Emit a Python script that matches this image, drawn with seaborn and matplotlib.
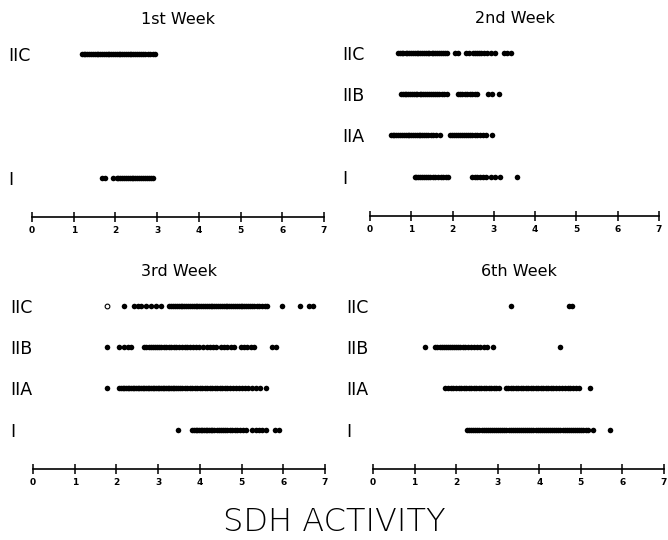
import numpy as np
import pandas as pd
import matplotlib
matplotlib.use("Agg")
import matplotlib.pyplot as plt
import seaborn as sns

sns.set_theme(style="white")
plt.rcParams['font.family'] = ['DejaVu Sans']
plt.rcParams['text.color'] = 'black'
plt.rcParams['xtick.color'] = 'black'
plt.rcParams['ytick.color'] = 'black'
plt.rcParams['axes.labelcolor'] = 'black'

order = ["IIC", "IIB", "IIA", "I"]
titles = ["1st Week", "2nd Week", "3rd Week", "6th Week"]
xticks = [0, 1, 2, 3, 4, 5, 6, 7]

# ---- 1st week ----
w1_IIC = [1.20, 1.24, 1.28, 1.33, 1.37, 1.41, 1.46, 1.50, 1.55, 1.59, 1.63, 1.68,
          1.72, 1.77, 1.81, 1.85, 1.90, 1.94, 1.99, 2.03, 2.08, 2.12, 2.16, 2.21,
          2.25, 2.30, 2.34, 2.38, 2.43, 2.47, 2.52, 2.56, 2.61, 2.66, 2.72, 2.78,
          2.84, 2.90, 2.95]
w1_I = [1.67, 1.74, 1.95, 2.03, 2.07, 2.12, 2.16, 2.21, 2.25, 2.30, 2.34, 2.39,
        2.43, 2.48, 2.52, 2.57, 2.61, 2.66, 2.70, 2.75, 2.80, 2.85, 2.90]

# ---- 2nd week ----
w2_IIC = [0.68, 0.72, 0.77, 0.81, 0.86, 0.90, 0.95, 0.99, 1.04, 1.08, 1.13, 1.17,
          1.22, 1.26, 1.31, 1.35, 1.40, 1.44, 1.49, 1.53, 1.58, 1.62, 1.67, 1.71,
          1.76, 1.82, 1.87, 2.05, 2.14, 2.32, 2.40, 2.50, 2.55, 2.60, 2.65, 2.70,
          2.76, 2.84, 2.92, 3.02, 3.25, 3.33, 3.42]
w2_IIB = [0.74, 0.79, 0.84, 0.88, 0.93, 0.97, 1.02, 1.06, 1.11, 1.15, 1.20, 1.24,
          1.29, 1.33, 1.38, 1.42, 1.47, 1.52, 1.57, 1.63, 1.68, 1.74, 1.80, 1.87,
          2.13, 2.18, 2.24, 2.30, 2.36, 2.42, 2.48, 2.54, 2.60, 2.86, 2.95, 3.12]
w2_IIA = [0.50, 0.55, 0.59, 0.64, 0.68, 0.73, 0.77, 0.82, 0.86, 0.91, 0.95, 1.00,
          1.04, 1.09, 1.13, 1.18, 1.22, 1.27, 1.31, 1.36, 1.41, 1.47, 1.53, 1.60,
          1.70, 1.94, 1.99, 2.04, 2.08, 2.13, 2.17, 2.22, 2.27, 2.32, 2.37, 2.42,
          2.48, 2.54, 2.60, 2.67, 2.74, 2.82, 2.95]
w2_I = [1.08, 1.12, 1.17, 1.21, 1.26, 1.30, 1.35, 1.40, 1.46, 1.52, 1.58, 1.64,
        1.71, 1.78, 1.85, 1.90, 2.48, 2.54, 2.60, 2.67, 2.74, 2.82, 2.92, 3.02,
        3.14, 3.55]

# ---- 3rd week ----
w3_IIC = [2.17, 2.43, 2.51, 2.59, 2.71, 2.83, 2.95, 3.07, 3.27, 3.31, 3.36, 3.40,
          3.45, 3.49, 3.54, 3.58, 3.63, 3.67, 3.72, 3.76, 3.81, 3.85, 3.90, 3.94,
          3.99, 4.03, 4.08, 4.12, 4.17, 4.21, 4.26, 4.30, 4.35, 4.39, 4.44, 4.48,
          4.53, 4.57, 4.62, 4.66, 4.71, 4.75, 4.80, 4.84, 4.89, 4.93, 4.98, 5.02,
          5.07, 5.11, 5.16, 5.20, 5.25, 5.30, 5.36, 5.42, 5.48, 5.55, 5.62, 5.98,
          6.41, 6.61, 6.71]
w3_IIC_open = [1.77]
w3_IIB = [1.77, 2.07, 2.19, 2.27, 2.35, 2.67, 2.72, 2.77, 2.82, 2.87, 2.92, 2.97,
          3.02, 3.08, 3.14, 3.20, 3.25, 3.31, 3.38, 3.44, 3.50, 3.57, 3.64, 3.70,
          3.77, 3.84, 3.91, 3.98, 4.08, 4.16, 4.24, 4.31, 4.38, 4.50, 4.58, 4.66,
          4.74, 4.82, 4.98, 5.06, 5.14, 5.22, 5.30, 5.72, 5.83]
w3_IIA = [1.77, 2.07, 2.11, 2.15, 2.19, 2.23, 2.27, 2.31, 2.35, 2.39, 2.43, 2.47,
          2.51, 2.55, 2.59, 2.63, 2.67, 2.71, 2.75, 2.79, 2.83, 2.87, 2.91, 2.95,
          2.99, 3.03, 3.07, 3.11, 3.15, 3.19, 3.23, 3.27, 3.31, 3.35, 3.39, 3.43,
          3.47, 3.52, 3.58, 3.64, 3.70, 3.76, 3.82, 3.88, 3.94, 4.00, 4.06, 4.12,
          4.18, 4.24, 4.30, 4.36, 4.42, 4.48, 4.54, 4.60, 4.66, 4.72, 4.79, 4.86,
          4.93, 5.00, 5.08, 5.16, 5.24, 5.34, 5.44, 5.58]
w3_I = [3.47, 3.82, 3.86, 3.90, 3.94, 3.98, 4.02, 4.06, 4.10, 4.14, 4.18, 4.22,
        4.26, 4.30, 4.35, 4.40, 4.45, 4.50, 4.55, 4.60, 4.66, 4.72, 4.78, 4.84,
        4.90, 4.96, 5.03, 5.10, 5.26, 5.34, 5.42, 5.50, 5.58, 5.80, 5.90]

# ---- 6th week ----
w6_IIC = [3.31, 4.72, 4.78]
w6_IIB = [1.24, 1.50, 1.55, 1.60, 1.65, 1.70, 1.75, 1.80, 1.85, 1.90, 1.95, 2.00,
          2.05, 2.10, 2.16, 2.22, 2.28, 2.35, 2.42, 2.50, 2.58, 2.66, 2.74, 2.89,
          4.51]
w6_IIA = [1.72, 1.80, 1.87, 1.93, 2.00, 2.06, 2.12, 2.18, 2.24, 2.30, 2.36, 2.42,
          2.48, 2.54, 2.60, 2.66, 2.72, 2.78, 2.84, 2.90, 2.96, 3.02, 3.19, 3.25,
          3.31, 3.37, 3.43, 3.49, 3.55, 3.61, 3.67, 3.73, 3.79, 3.85, 3.91, 3.97,
          4.03, 4.09, 4.15, 4.21, 4.27, 4.33, 4.40, 4.47, 4.54, 4.61, 4.68, 4.75,
          4.82, 4.89, 4.95, 5.23]
w6_I = [2.26, 2.31, 2.36, 2.41, 2.46, 2.51, 2.56, 2.61, 2.66, 2.71, 2.76, 2.81,
        2.86, 2.91, 2.96, 3.01, 3.06, 3.11, 3.16, 3.21, 3.26, 3.31, 3.36, 3.41,
        3.46, 3.51, 3.56, 3.61, 3.66, 3.71, 3.76, 3.81, 3.86, 3.91, 3.96, 4.01,
        4.06, 4.11, 4.16, 4.21, 4.26, 4.31, 4.36, 4.41, 4.46, 4.51, 4.56, 4.61,
        4.66, 4.71, 4.76, 4.81, 4.86, 4.91, 4.96, 5.01, 5.06, 5.12, 5.18, 5.30,
        5.70]

panels = [
    {"IIC": w1_IIC, "I": w1_I},
    {"IIC": w2_IIC, "IIB": w2_IIB, "IIA": w2_IIA, "I": w2_I},
    {"IIC": w3_IIC, "IIB": w3_IIB, "IIA": w3_IIA, "I": w3_I},
    {"IIC": w6_IIC, "IIB": w6_IIB, "IIA": w6_IIA, "I": w6_I},
]


def to_df(d):
    rows = []
    for k, vals in d.items():
        for v in vals:
            rows.append((k, v))
    return pd.DataFrame(rows, columns=["fiber", "value"])


W, H = 668, 540
fig = plt.figure(figsize=(W / 100, H / 100), dpi=100)

# (left px of 0, right px of 7, axis-line y px, label pad px)
geo = [(32, 324, 217, 24), (370, 659, 216, 28), (33, 325, 469, 23), (373, 664, 469, 27)]
unit_px = 41.3
ytop, ybot = -0.6, 3.95

for i, (d, title, (x0, x1, yax, pad)) in enumerate(zip(panels, titles, geo)):
    hpx = (ybot - ytop) * unit_px
    ax = fig.add_axes([x0 / W, 1 - yax / H, (x1 - x0) / W, hpx / H])
    df = to_df(d)
    sns.stripplot(data=df, x="value", y="fiber", order=order, jitter=False,
                  color="black", size=4.0, linewidth=0, ax=ax)
    if i == 2:
        dfo = pd.DataFrame({"fiber": ["IIC"] * len(w3_IIC_open), "value": w3_IIC_open})
        sns.stripplot(data=dfo, x="value", y="fiber", order=order, jitter=False,
                      color="white", edgecolor="black", linewidth=0.8, size=3.4, ax=ax)
    ax.set_xlim(0, 7)
    ax.set_ylim(ybot, ytop)
    present = [c for c in order if c in d]
    ax.set_yticks([order.index(c) for c in present])
    ax.set_yticklabels(present, ha="left", fontsize=12.5, color="black")
    ax.tick_params(axis="y", left=False, length=0, pad=pad * 0.72)
    ax.set_xticks(xticks)
    ax.set_xticklabels([str(t) for t in xticks], fontsize=6.5, fontweight="bold", color="black")
    ax.tick_params(axis="x", bottom=True, direction="inout", length=7, width=1.1,
                   pad=3, colors="black")
    for s in ["left", "top", "right"]:
        ax.spines[s].set_visible(False)
    ax.spines["bottom"].set_color("black")
    ax.spines["bottom"].set_linewidth(1.2)
    ax.set_xlabel("")
    ax.set_ylabel("")
    ax.set_title(title, fontsize=11.5, pad=4, color="black")

fig.text(0.5, 1 - 522 / H, "SDH ACTIVITY", ha="center", va="center",
         fontsize=23, fontweight="light", color="black")

fig.savefig("out.png", dpi=100)
